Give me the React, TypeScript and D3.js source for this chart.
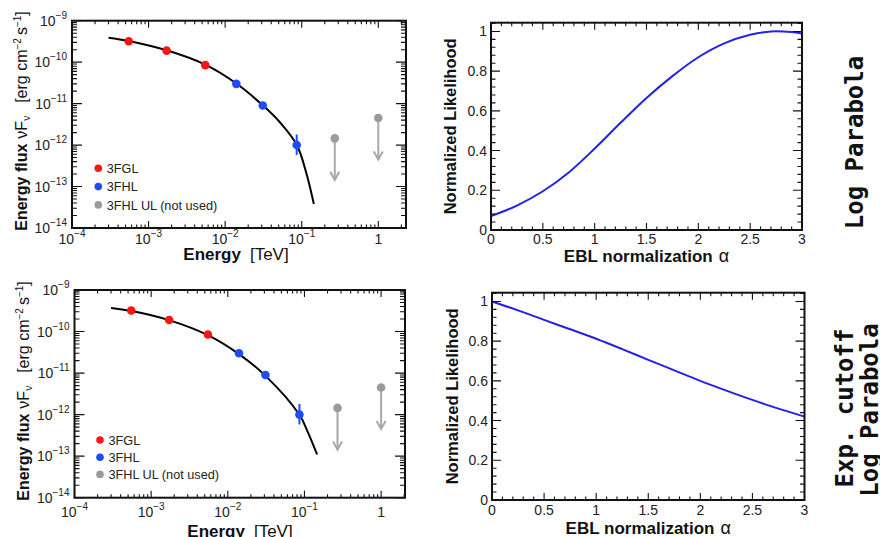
import React from "react";
import * as d3 from "d3";

const W = 880;
const H = 537;
const SANS = "'Liberation Sans', Arial, Helvetica, sans-serif";
const MONO = "'DejaVu Sans Mono', monospace";

// Measured spectral points: energy [TeV], energy flux [erg cm^-2 s^-1]
const fglEnergy = [5.5e-4, 1.72e-3, 5.5e-3];
const fglFlux = [3.2e-10, 1.9e-10, 8.5e-11];
const fhlEnergy = [1.4e-2, 3.1e-2, 8.6e-2];
const fhlFlux = [3.0e-11, 9.0e-12, 1.0e-12];
const fhlErrLow = [3.0e-11, 9.0e-12, 5.8e-13];
const fhlErrHigh = [3.0e-11, 9.0e-12, 1.8e-12];
const ulEnergy = [0.27, 1.0];
const ulFlux = [1.45e-12, 4.5e-12];

// Fitted spectral models
const lpEnergy = [3.0e-4, 5.5e-4, 1.72e-3, 5.5e-3, 1.4e-2, 3.1e-2, 5.15e-2, 8.6e-2, 0.115, 0.144];
const lpFlux = [3.9e-10, 3.25e-10, 1.93e-10, 8.7e-11, 3.05e-11, 9.1e-12, 3.6e-12, 1.02e-12, 2.1e-13, 3.8e-14];
const ecEnergy = [3.0e-4, 5.4e-4, 1.7e-3, 5.4e-3, 1.37e-2, 3.06e-2, 8.6e-2, 0.11, 0.146];
const ecFlux = [3.7e-10, 3.15e-10, 1.88e-10, 8.3e-11, 2.95e-11, 8.8e-12, 9.9e-13, 3.9e-13, 1.1e-13];

// Likelihood profiles versus EBL normalization
const lpAlpha = [0, 0.25, 0.5, 0.75, 1, 1.25, 1.5, 1.75, 2, 2.25, 2.5, 2.7, 2.9, 3];
const lpLike = [0.07, 0.123, 0.195, 0.29, 0.41, 0.54, 0.665, 0.775, 0.87, 0.94, 0.983, 1.0, 0.997, 0.99];
const ecAlpha = [0, 0.25, 0.5, 0.75, 1, 1.25, 1.5, 1.75, 2, 2.25, 2.5, 2.75, 3];
const ecLike = [1.0, 0.955, 0.907, 0.86, 0.812, 0.76, 0.706, 0.653, 0.6, 0.551, 0.504, 0.46, 0.42];

// Axis tick labels
const decadeExps = [-4, -3, -2, -1, 0];
const fluxExps = [-14, -13, -12, -11, -10, -9];
const alphaTicks = [0, 0.5, 1, 1.5, 2, 2.5, 3];
const likeTicks = [0, 0.2, 0.4, 0.6, 0.8, 1];

const legendNames = ["3FGL", "3FHL", "3FHL UL (not used)"];
const RED = "#ff1414";
const BLUE = "#1e4bff";
const GREY = "#9a9a9a";
const ARROW = "#a8a8a8";
const LINE_BLUE = "#2222e6";

function logMinors(lo: number, hi: number) {
  const out: number[] = [];
  for (let e = Math.floor(Math.log10(lo)); e <= Math.ceil(Math.log10(hi)); e++) {
    for (let k = 2; k <= 9; k++) {
      const v = k * Math.pow(10, e);
      if (v > lo && v < hi) out.push(v);
    }
  }
  return out;
}

function Frame({ box, xMaj, xMin, yMaj, yMin, xs, ys, xl, yl }: any) {
  const xMajL = xl[0], xMinL = xl[1], yMajL = yl[0], yMinL = yl[1];
  const segs: string[] = [];
  xMaj.forEach((v: number) => {
    const p = xs(v);
    segs.push(`M${p},${box.y1}V${box.y1 - xMajL}M${p},${box.y0}V${box.y0 + xMajL}`);
  });
  xMin.forEach((v: number) => {
    const p = xs(v);
    segs.push(`M${p},${box.y1}V${box.y1 - xMinL}M${p},${box.y0}V${box.y0 + xMinL}`);
  });
  yMaj.forEach((v: number) => {
    const p = ys(v);
    segs.push(`M${box.x0},${p}H${box.x0 + yMajL}M${box.x1},${p}H${box.x1 - yMajL}`);
  });
  yMin.forEach((v: number) => {
    const p = ys(v);
    segs.push(`M${box.x0},${p}H${box.x0 + yMinL}M${box.x1},${p}H${box.x1 - yMinL}`);
  });
  return (
    <g>
      <path d={segs.join("")} stroke="#111" strokeWidth={1.1} fill="none" />
      <rect x={box.x0} y={box.y0} width={box.x1 - box.x0} height={box.y1 - box.y0} fill="none" stroke="#111" strokeWidth={2} />
    </g>
  );
}

function SedPanel({ box, xMax, curveE, curveF, labelY, titleY, titleX, yTitleX, yTitleY, legend }: any) {
  const xs = d3.scaleLog().domain([1e-4, xMax]).range([box.x0, box.x1]);
  const ys = d3.scaleLog().domain([1e-14, 1e-9]).range([box.y1, box.y0]);
  const line = d3
    .line<number>()
    .x((i) => xs(curveE[i]))
    .y((i) => ys(curveF[i]))
    .curve(d3.curveCatmullRom.alpha(0.5));
  const xMaj = decadeExps.map((e) => Math.pow(10, e));
  const yMaj = fluxExps.map((e) => Math.pow(10, e));
  const r = 4.3;
  return (
    <g fontFamily={SANS}>
      <path d={line(d3.range(curveE.length)) || ""} fill="none" stroke="#000" strokeWidth={2} />
      {fglEnergy.map((e, i) => (
        <circle key={"r" + i} cx={xs(e)} cy={ys(fglFlux[i])} r={r} fill={RED} />
      ))}
      {fhlEnergy.map((e, i) => (
        <g key={"b" + i}>
          <line x1={xs(e)} x2={xs(e)} y1={ys(fhlErrLow[i])} y2={ys(fhlErrHigh[i])} stroke={BLUE} strokeWidth={2} />
          <circle cx={xs(e)} cy={ys(fhlFlux[i])} r={r} fill={BLUE} />
        </g>
      ))}
      {ulEnergy.map((e, i) => {
        const cx = xs(e);
        const top = ys(ulFlux[i]);
        const tip = ys(ulFlux[i] / 10);
        return (
          <g key={"u" + i}>
            <line x1={cx} x2={cx} y1={top} y2={tip} stroke={ARROW} strokeWidth={2} />
            <path d={`M${cx - 4.5},${tip - 8}L${cx},${tip}L${cx + 4.5},${tip - 8}`} fill="none" stroke={ARROW} strokeWidth={2} />
            <circle cx={cx} cy={top} r={r} fill={GREY} />
          </g>
        );
      })}
      {legendNames.map((name, i) => (
        <g key={name}>
          <circle cx={legend.x} cy={legend.y + i * legend.dy} r={3.8} fill={[RED, BLUE, GREY][i]} />
          <text x={legend.x + 8.5} y={legend.y + i * legend.dy + 4.6} fontSize={12.7} fill="#222">
            {name}
          </text>
        </g>
      ))}
      <Frame
        box={box}
        xs={xs}
        ys={ys}
        xMaj={xMaj}
        xMin={logMinors(1e-4, xMax)}
        yMaj={yMaj}
        yMin={logMinors(1e-14, 1e-9)}
        xl={[7, 3.5]}
        yl={[10, 5]}
      />
      {decadeExps.map((e) => (
        <text key={"xl" + e} x={xs(Math.pow(10, e))} y={labelY} fontSize={14} textAnchor="middle" fill="#222">
          {e === 0 ? (
            "1"
          ) : (
            <>
              <tspan>10</tspan>
              <tspan dy={-7} fontSize={10}>{"\u2212" + -e}</tspan>
            </>
          )}
        </text>
      ))}
      {fluxExps.map((e) => (
        <text key={"yl" + e} x={box.x0 - 5} y={ys(Math.pow(10, e)) + 5} fontSize={14} textAnchor="end" fill="#222">
          <tspan>10</tspan>
          <tspan dy={-7} fontSize={10}>{"\u2212" + -e}</tspan>
        </text>
      ))}
      <text x={titleX} y={titleY} fontSize={17} textAnchor="middle" fill="#111">
        <tspan fontWeight="bold">Energy</tspan>
        <tspan dx={9}>[TeV]</tspan>
      </text>
      <text transform={`translate(${yTitleX},${yTitleY}) rotate(-90)`} fontSize={16} textAnchor="middle" fill="#111">
        <tspan fontWeight="bold">Energy flux</tspan>
        <tspan dx={5}>{"\u03bdF"}</tspan>
        <tspan dy={3} fontSize={10}>{"\u03bd"}</tspan>
        <tspan dy={-3} dx={13}>[erg cm</tspan>
        <tspan dy={-6} fontSize={10}>{"\u22122"}</tspan>
        <tspan dy={6} dx={3}>s</tspan>
        <tspan dy={-6} fontSize={10}>{"\u22121"}</tspan>
        <tspan dy={6}>]</tspan>
      </text>
    </g>
  );
}

function LikePanel({ box, alpha, like, labelY, titleY, yTitleX }: any) {
  const xs = d3.scaleLinear().domain([0, 3]).range([box.x0, box.x1]);
  const ys = d3.scaleLinear().domain([0, 1.044]).range([box.y1, box.y0]);
  const line = d3
    .line<number>()
    .x((i) => xs(alpha[i]))
    .y((i) => ys(like[i]))
    .curve(d3.curveCatmullRom.alpha(0.5));
  const xMin = d3.range(1, 30).map((k) => k / 10).filter((v) => Math.abs(v * 2 - Math.round(v * 2)) > 1e-6);
  const yMin = d3.range(1, 27).map((k) => k * 0.04).filter((v) => Math.abs(v * 5 - Math.round(v * 5)) > 1e-6 && v < 1.044);
  const midX = (box.x0 + box.x1) / 2;
  const midY = (box.y0 + box.y1) / 2;
  return (
    <g fontFamily={SANS}>
      <path d={line(d3.range(alpha.length)) || ""} fill="none" stroke={LINE_BLUE} strokeWidth={2} />
      <Frame box={box} xs={xs} ys={ys} xMaj={alphaTicks} xMin={xMin} yMaj={likeTicks} yMin={yMin} xl={[7, 3.5]} yl={[9, 4.5]} />
      {alphaTicks.map((v) => (
        <text key={"x" + v} x={xs(v)} y={labelY} fontSize={14} textAnchor="middle" fill="#222">
          {String(v)}
        </text>
      ))}
      {likeTicks.map((v) => (
        <text key={"y" + v} x={box.x0 - 4} y={ys(v) + 5} fontSize={14} textAnchor="end" fill="#222">
          {String(v)}
        </text>
      ))}
      <text x={midX} y={titleY} fontSize={17} textAnchor="middle" fill="#111">
        <tspan fontWeight="bold">EBL normalization</tspan>
        <tspan dx={6} fontSize={18}>{"\u03b1"}</tspan>
      </text>
      <text transform={`translate(${yTitleX},${midY}) rotate(-90)`} fontSize={16.5} fontWeight="bold" textAnchor="middle" fill="#111">
        Normalized Likelihood
      </text>
    </g>
  );
}

export default function App() {
  return (
    <svg width={W} height={H} viewBox={`0 0 ${W} ${H}`} style={{ position: "absolute", left: 0, top: 0, background: "#fff" }}>
      <rect width={W} height={H} fill="#fff" />
      <SedPanel
        box={{ x0: 72, x1: 406, y0: 20.7, y1: 228 }}
        xMax={2.3}
        curveE={lpEnergy}
        curveF={lpFlux}
        labelY={244}
        titleY={260}
        titleX={236}
        yTitleX={27}
        yTitleY={121}
        legend={{ x: 98.3, y: 168.3, dy: 18.3 }}
      />
      <SedPanel
        box={{ x0: 74.5, x1: 405, y0: 290, y1: 497.7 }}
        xMax={2.05}
        curveE={ecEnergy}
        curveF={ecFlux}
        labelY={517}
        titleY={537}
        titleX={240}
        yTitleX={29}
        yTitleY={391}
        legend={{ x: 100, y: 440, dy: 17.2 }}
      />
      <LikePanel box={{ x0: 491, x1: 802, y0: 22.7, y1: 230 }} alpha={lpAlpha} like={lpLike} labelY={244} titleY={262} yTitleX={456} />
      <LikePanel box={{ x0: 492, x1: 804.5, y0: 292.7, y1: 500 }} alpha={ecAlpha} like={ecLike} labelY={515} titleY={534} yTitleX={457.5} />
      <g fontFamily={MONO} fontWeight="bold" fontSize={24} fill="#111" textAnchor="middle">
        <text transform="translate(863,142.5) rotate(-90)">Log Parabola</text>
        <text transform="translate(853,408) rotate(-90)">Exp. cutoff</text>
        <text transform="translate(878,410) rotate(-90)">Log Parabola</text>
      </g>
    </svg>
  );
}
